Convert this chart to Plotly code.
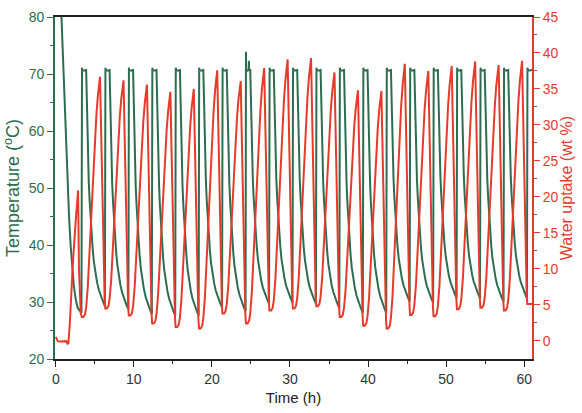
import plotly.graph_objects as go

# ---------------- data ----------------
# start time (h) of each heating step (green rise)
CYCLE_START = [3.29, 6.29, 9.30, 12.30, 15.30, 18.30, 21.30, 24.31, 27.32, 30.32,
               33.32, 36.32, 39.33, 42.33, 45.33, 48.34, 51.34, 54.34, 57.35, 60.35]
# temperature minimum just before each heating step (degC)
GREEN_MIN = [28.1, 29.3, 28.7, 27.9, 27.6, 27.6, 29.0, 28.4, 29.7, 29.9,
             29.7, 28.9, 28.1, 28.1, 30.1, 29.9, 30.7, 30.7, 30.1, 30.7]
GREEN_TOP = 70.7
# initial cool-down (h, degC)
GREEN_START_T = [0.0, 0.55, 0.70, 0.90, 1.10, 1.30, 1.50, 1.70, 1.90, 2.10, 2.30, 2.55, 2.80]
GREEN_START_V = [90.0, 90.0, 81.0, 74.0, 65.0, 57.0, 50.5, 45.0, 40.0, 36.0, 33.0, 30.5, 29.0]
# overshoot spikes on the plateau near 24.5 h
GREEN_SPIKE_T = [24.36, 24.74]
GREEN_SPIKE_V = [73.9, 72.3]

# water uptake: peak before each heating step and minimum after it (wt %)
RED_PEAK = [20.9, 36.7, 36.2, 35.6, 34.6, 35.0, 37.6, 36.1, 37.9, 39.1,
            39.3, 37.3, 34.8, 34.7, 38.5, 37.5, 38.2, 38.8, 38.3, 38.9]
RED_MIN = [3.3, 4.5, 3.5, 2.4, 1.9, 1.7, 3.8, 2.4, 4.2, 4.5,
           4.8, 3.3, 2.1, 1.7, 3.6, 3.4, 4.4, 4.6, 4.2, 5.1]
RED_START_T = [0.0, 0.25, 0.60, 1.00, 1.35, 1.50, 1.62, 1.80, 2.00, 2.20, 2.56, 2.86, 2.97, 3.10, 3.20]
RED_START_V = [0.55, -0.05, -0.1, -0.1, -0.05, -0.4, -0.3, 2.4, 6.9, 11.0, 16.8, 20.9, 10.0, 5.2, 3.8]
RED_END_T = [61.2]
RED_END_V = [5.3]

# shape of one cycle read from a zoomed period (relative time s in h, fraction of swing)
G_PLAT_S = [0.0, 0.07, 0.13, 0.60]
G_PLAT_DV = [None, 0.4, -0.15, 0.0]
G_DECAY_S = [0.68, 0.76, 0.85, 0.93, 1.04, 1.15, 1.30, 1.44, 1.60, 1.79, 2.00, 2.21, 2.50, 2.77]
G_DECAY_F = [0.85, 0.74, 0.62, 0.53, 0.45, 0.38, 0.30, 0.24, 0.185, 0.14, 0.10, 0.07, 0.04, 0.018]
R_FALL_S = [-0.62, -0.50, -0.35, -0.20, -0.10, -0.03]
R_FALL_F = [1.0, 0.80, 0.53, 0.26, 0.10, 0.04]
R_BOT_S = [0.05, 0.25, 0.45, 0.60]
R_BOT_F = [0.0, 0.0, 0.01, 0.04]
R_RISE_S = [0.80, 1.06, 1.30, 1.49, 1.70, 1.91, 2.10, 2.25, 2.34]
R_RISE_F = [0.12, 0.30, 0.46, 0.59, 0.72, 0.84, 0.92, 0.97, 0.995]

GREEN = "#2c6d50"
RED = "#e63b2b"
X_END = 61.0

# ---------------- build traces ----------------
gt, gv = list(GREEN_START_T), list(GREEN_START_V)
n = len(CYCLE_START)
for k in range(n):
    t0 = CYCLE_START[k]
    for s, dv in zip(G_PLAT_S, G_PLAT_DV):
        gt.append(t0 + s)
        gv.append(GREEN_MIN[k] if dv is None else GREEN_TOP + dv)
    if k < n - 1:
        lo = GREEN_MIN[k + 1]
        for s, f in zip(G_DECAY_S, G_DECAY_F):
            gt.append(t0 + s)
            gv.append(lo + f * (GREEN_TOP - lo))
    else:
        gt.append(X_END + 0.2)
        gv.append(GREEN_TOP)
for ts, vs in zip(GREEN_SPIKE_T, GREEN_SPIKE_V):
    gt += [ts - 0.025, ts, ts + 0.025]
    gv += [GREEN_TOP, vs, GREEN_TOP]
pts = sorted(zip(gt, gv))
gt = [p[0] for p in pts]
gv = [p[1] for p in pts]

rt, rv = list(RED_START_T), list(RED_START_V)
for k in range(n):
    t0 = CYCLE_START[k]
    lo = RED_MIN[k]
    if k >= 1:
        for s, f in zip(R_FALL_S, R_FALL_F):
            rt.append(t0 + s)
            rv.append(lo + f * (RED_PEAK[k] - lo))
    nxt = RED_PEAK[k + 1] if k < n - 1 else lo
    for s, f in zip(R_BOT_S, R_BOT_F):
        rt.append(t0 + s)
        rv.append(lo + f * (nxt - lo))
    if k < n - 1:
        for s, f in zip(R_RISE_S, R_RISE_F):
            rt.append(t0 + s)
            rv.append(lo + f * (nxt - lo))
rt += RED_END_T
rv += RED_END_V

FONT = "Liberation Sans, Arial, sans-serif"

fig = go.Figure()
fig.add_trace(go.Scatter(x=gt, y=gv, mode="lines", line=dict(color=GREEN, width=2),
                         yaxis="y", showlegend=False, hoverinfo="skip"))
fig.add_trace(go.Scatter(x=rt, y=rv, mode="lines", line=dict(color=RED, width=2),
                         yaxis="y2", showlegend=False, hoverinfo="skip"))

fig.update_layout(
    width=582, height=413,
    margin=dict(l=55, r=50, t=9, b=54),
    paper_bgcolor="white", plot_bgcolor="white",
    font=dict(family=FONT, size=14, color="#222"),
    xaxis=dict(range=[-0.1, X_END], tickmode="array", tickvals=[0, 10, 20, 30, 40, 50, 60],
               ticks="outside", ticklen=6, tickwidth=1.3, tickcolor="#222",
               minor=dict(tickmode="array", tickvals=[5, 15, 25, 35, 45, 55], ticks="outside",
                          ticklen=3, tickwidth=1.3, tickcolor="#222"),
               showline=True, linecolor="#222", linewidth=1.5, mirror=True,
               showgrid=False, zeroline=False,
               title=dict(text="Time (h)", font=dict(size=15, color="#222"), standoff=7),
               tickfont=dict(size=14, color="#333")),
    yaxis=dict(range=[20, 80], tickmode="array", tickvals=[20, 30, 40, 50, 60, 70, 80],
               ticks="outside", ticklen=6, tickwidth=1.3, tickcolor=GREEN,
               minor=dict(tickmode="array", tickvals=[25, 35, 45, 55, 65, 75], ticks="outside",
                          ticklen=3, tickwidth=1.3, tickcolor=GREEN),
               showline=True, linecolor=GREEN, linewidth=1.8,
               showgrid=False, zeroline=False,
               title=dict(text="Temperature (<sup>o</sup>C)", font=dict(size=18, color=GREEN), standoff=4),
               tickfont=dict(size=14, color=GREEN)),
    yaxis2=dict(range=[-2.53, 45], overlaying="y", side="right",
                tickmode="array", tickvals=[0, 5, 10, 15, 20, 25, 30, 35, 40, 45],
                ticks="outside", ticklen=6, tickwidth=1.3, tickcolor=RED,
                minor=dict(tickmode="array", tickvals=[2.5, 7.5, 12.5, 17.5, 22.5, 27.5, 32.5, 37.5, 42.5],
                           ticks="outside", ticklen=3, tickwidth=1.3, tickcolor=RED),
                showline=True, linecolor=RED, linewidth=1.8,
                showgrid=False, zeroline=False,
                title=dict(text="Water uptake (wt %)", font=dict(size=16, color=RED), standoff=3),
                tickfont=dict(size=14, color=RED)),
)

fig.write_html("out.html")
